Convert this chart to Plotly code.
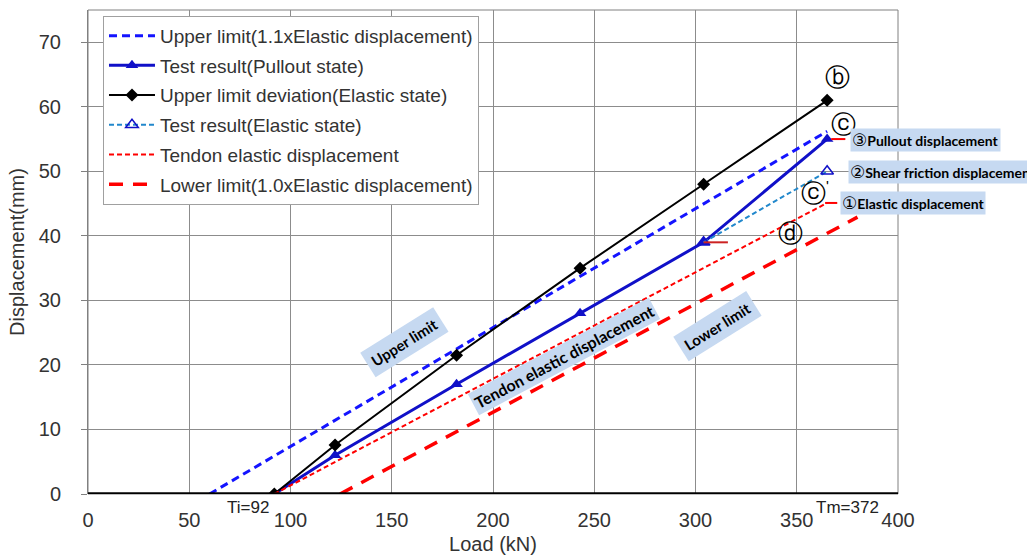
import plotly.graph_objects as go

# ---- data ----
load_pts = [92, 122, 182, 243, 304, 365]
pullout_disp = [0, 6.0, 17.0, 28.0, 39.0, 55.0]
deviation_disp = [0, 7.6, 21.5, 35.0, 48.0, 61.0]
elastic_test_load = [304, 365]
elastic_test_disp = [39.0, 50.0]
upper_load = [60, 365]
upper_disp = [0, 56.2]
tendon_load = [92, 365]
tendon_disp = [0, 45.1]
lower_load = [124.5, 380]
lower_disp = [0, 42.9]
x_ticks = [0, 50, 100, 150, 200, 250, 300, 350, 400]
y_ticks = [0, 10, 20, 30, 40, 50, 60, 70]

TXT = "#333333"
BASE = "Liberation Sans, Arial, sans-serif"
BOLD = "Lato, Noto Sans CJK KR, sans-serif"
BG = "#c6d9f1"

fig = go.Figure()
fig.add_trace(go.Scatter(x=upper_load, y=upper_disp, mode="lines",
                         name="Upper limit(1.1xElastic displacement)", legendgroup="a",
                         line=dict(color="#1414ff", width=3, dash="8px,5px")))
fig.add_trace(go.Scatter(x=load_pts, y=pullout_disp, mode="lines+markers",
                         name="Test result(Pullout state)", legendgroup="b",
                         line=dict(color="#1010c8", width=3),
                         marker=dict(symbol="triangle-up", size=11, color="#1010c8")))
fig.add_trace(go.Scatter(x=load_pts, y=deviation_disp, mode="lines+markers",
                         name="Upper limit deviation(Elastic state)", legendgroup="c",
                         line=dict(color="black", width=2),
                         marker=dict(symbol="diamond", size=10, color="black")))
fig.add_trace(go.Scatter(x=elastic_test_load, y=elastic_test_disp, mode="lines+markers",
                         name="Test result(Elastic state)", legendgroup="d",
                         line=dict(color="#2288cc", width=2, dash="5px,3px"),
                         marker=dict(symbol="triangle-up-open", size=11, color="#1010c8",
                                     line=dict(width=1.5))))
fig.add_trace(go.Scatter(x=tendon_load, y=tendon_disp, mode="lines",
                         name="Tendon elastic displacement", legendgroup="e",
                         line=dict(color="#ff0000", width=2, dash="5px,3px")))
fig.add_trace(go.Scatter(x=lower_load, y=lower_disp, mode="lines",
                         name="Lower limit(1.0xElastic displacement)", legendgroup="f",
                         line=dict(color="#ff0000", width=3.5, dash="14px,10px")))

ann = []
def A(x, y, text, size=16, color="black", family=BASE, yref="y", **kw):
    ann.append(dict(x=x, y=y, xref="x", yref=yref, text=text, showarrow=False,
                    font=dict(size=size, color=color, family=family), **kw))

def circ(d):
    return ('<span style="font-family:DejaVu Sans;font-weight:normal;font-size:17px">'
            + d + '</span>')

A(79, -0.028, "Ti=92", size=17, color="#222222", yref="paper", yanchor="middle")
A(375, -0.028, "Tm=372", size=17, color="#222222", yref="paper", yanchor="middle")
A(370, 64.6, "ⓑ", size=25, family="DejaVu Sans")
A(373, 57.3, "ⓒ", size=25, family="DejaVu Sans")
A(358.5, 46.6, "ⓒ", size=25, family="DejaVu Sans")
A(365.3, 47.8, "'", size=15)
A(347, 40.3, "ⓓ", size=25, family="DejaVu Sans")
A(376.5, 54.9, "<b>" + circ("③") + "Pullout displacement</b>", size=14, family=BOLD,
  xanchor="left", bgcolor=BG, borderpad=1)
A(375.5, 49.9, "<b>" + circ("②") + "Shear friction displacement</b>", size=14, family=BOLD,
  xanchor="left", bgcolor=BG, borderpad=1)
A(371.5, 45.1, "<b>" + circ("①") + "Elastic displacement</b>", size=14, family=BOLD,
  xanchor="left", bgcolor=BG, borderpad=1)
A(156.5, 23.5, "<b>Upper limit</b>", size=15, family=BOLD, textangle=-32, bgcolor=BG, borderpad=5)
A(235.0, 21.3, "<b>Tendon elastic displacement</b>", size=16, family=BOLD, textangle=-28,
  bgcolor=BG, borderpad=2)
A(311, 26.0, "<b>Lower limit</b>", size=15, family=BOLD, textangle=-32, bgcolor=BG, borderpad=5)

shapes = [
    dict(type="line", xref="x", yref="y", x0=367, x1=374, y0=55.0, y1=55.0,
         line=dict(color="red", width=2)),
    dict(type="line", xref="x", yref="y", x0=364, x1=370, y0=45.1, y1=45.1,
         line=dict(color="red", width=2)),
    dict(type="line", xref="x", yref="y", x0=304, x1=316, y0=39.0, y1=39.0,
         line=dict(color="#cc2222", width=2)),
    dict(type="rect", xref="paper", yref="paper", x0=0, x1=1, y0=0, y1=1,
         line=dict(color="#808080", width=1), layer="below"),
    dict(type="line", xref="x", yref="y", x0=0, x1=400, y0=0, y1=0,
         line=dict(color="black", width=3.5)),
]

fig.update_layout(
    width=1027, height=556,
    margin=dict(l=88, r=129, t=10, b=62, autoexpand=False),
    paper_bgcolor="white", plot_bgcolor="white",
    font=dict(family=BASE, color=TXT, size=19),
    showlegend=True,
    legend=dict(x=0.0185, y=0.988, xanchor="left", yanchor="top",
                bgcolor="white", bordercolor="#a0a0a0", borderwidth=1,
                font=dict(size=19, color=TXT), itemwidth=46,
                traceorder="grouped", tracegroupgap=2),
    annotations=ann,
    shapes=shapes,
    xaxis=dict(range=[0, 400], tickvals=x_ticks, ticktext=[str(v) for v in x_ticks],
               showgrid=True, gridcolor="#8c8c8c", gridwidth=1, zeroline=False,
               showline=False, ticks="", ticklabelstandoff=12, automargin=False,
               tickfont=dict(size=20, color=TXT),
               title=dict(text="Load (kN)", font=dict(size=20, color=TXT), standoff=6)),
    yaxis=dict(range=[0, 75], tickvals=y_ticks, ticktext=[str(v) for v in y_ticks],
               showgrid=True, gridcolor="#8c8c8c", gridwidth=1, zeroline=False,
               showline=True, linecolor="#808080", ticks="outside", ticklen=6,
               tickcolor="#808080", ticklabelstandoff=16, automargin=False,
               tickfont=dict(size=20, color=TXT),
               title=dict(text="Displacement(mm)", font=dict(size=20, color=TXT), standoff=8)),
)

fig.write_html("out.html")
